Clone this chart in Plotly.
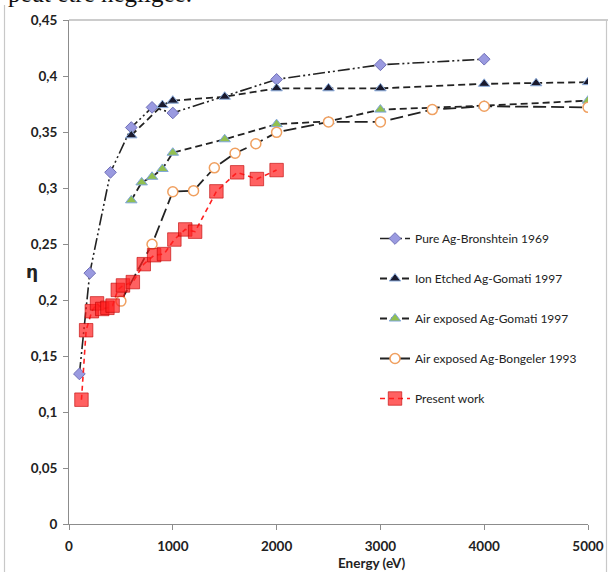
import plotly.graph_objects as go

# ---- data ----
bron_x = [100, 200, 400, 600, 800, 1000, 2000, 3000, 4000]
bron_y = [0.134, 0.224, 0.314, 0.354, 0.372, 0.367, 0.397, 0.410, 0.415]

ion_x = [600, 900, 1000, 1500, 2000, 2500, 3000, 4000, 4500, 5000]
ion_y = [0.347, 0.374, 0.378, 0.3815, 0.389, 0.389, 0.389, 0.393, 0.3935, 0.3945]

gom_x = [600, 700, 800, 900, 1000, 1500, 2000, 2500, 3000, 4000, 5000]
gom_y = [0.289, 0.305, 0.310, 0.317, 0.3315, 0.3435, 0.357, 0.3595, 0.370, 0.3735, 0.378]

bong_x = [500, 800, 1000, 1200, 1400, 1600, 1800, 2000, 2500, 3000, 3500, 4000, 5000]
bong_y = [0.199, 0.2497, 0.2967, 0.2976, 0.318, 0.331, 0.3395, 0.3497, 0.359, 0.359, 0.370, 0.373, 0.372]

present_x = [120, 165, 220, 270, 320, 370, 420, 470, 520, 615, 720, 820, 915, 1015, 1120, 1215, 1420, 1620, 1810, 2000]
present_y = [0.111, 0.173, 0.190, 0.197, 0.192, 0.193, 0.195, 0.209, 0.213, 0.216, 0.232, 0.240, 0.241, 0.254, 0.263, 0.261, 0.297, 0.314, 0.308, 0.316]

series_names = ["Pure Ag-Bronshtein 1969", "Ion Etched Ag-Gomati 1997",
                "Air exposed Ag-Gomati 1997", "Air exposed Ag-Bongeler 1993",
                "Present work"]

x_tickvals = [0, 1000, 2000, 3000, 4000, 5000]
x_ticktext = ["0", "1000", "2000", "3000", "4000", "5000"]
y_tickvals = [0, 0.05, 0.1, 0.15, 0.2, 0.25, 0.3, 0.35, 0.4, 0.45]
y_ticktext = ["0", "0,05", "0,1", "0,15", "0,2", "0,25", "0,3", "0,35", "0,4", "0,45"]

x_title = "Energy (eV)"
y_title = "η"
top_text = "peut être négligée."

FONT = "Lato"
LEG_FONT = dict(family=FONT, size=12, color="#222222")

fig = go.Figure()

fig.add_trace(go.Scatter(
    x=bron_x, y=bron_y, name=series_names[0], mode="lines+markers",
    line=dict(color="#222222", width=1.6, dash="12px,3px,2px,3px,2px,3px"),
    marker=dict(symbol="diamond", size=9, color="#9a9ae0",
                line=dict(color="#7070b8", width=1)),
    legendgroup="a"))

fig.add_trace(go.Scatter(
    x=ion_x, y=ion_y, name=series_names[1], mode="lines+markers",
    line=dict(color="#222222", width=1.8, dash="7px,4px"),
    marker=dict(symbol="triangle-up", size=10, color="#1a1a2e",
                line=dict(color="#8fb0e0", width=1)),
    legendgroup="b"))

fig.add_trace(go.Scatter(
    x=gom_x, y=gom_y, name=series_names[2], mode="lines+markers",
    line=dict(color="#222222", width=1.8, dash="7px,4px"),
    marker=dict(symbol="triangle-up", size=10, color="#92c050",
                line=dict(color="#7fa6dc", width=1)),
    legendgroup="c"))

fig.add_trace(go.Scatter(
    x=bong_x, y=bong_y, name=series_names[3], mode="lines+markers",
    line=dict(color="#222222", width=1.8, dash="13px,5px"),
    marker=dict(symbol="circle", size=10, color="white",
                line=dict(color="#f0a060", width=1.5)),
    legendgroup="d"))

fig.add_trace(go.Scatter(
    x=present_x, y=present_y, name=series_names[4], mode="lines+markers",
    line=dict(color="#ff2020", width=1.6, dash="5px,4px"),
    marker=dict(symbol="square", size=13.5, color="rgba(255,30,30,0.7)",
                line=dict(color="rgba(190,0,0,0.6)", width=1)),
    legendgroup="e"))

L, R, T, B = 69, 20, 20, 48
W, H = 608, 572
pw = W - L - R
ph = H - T - B

axis_common = dict(
    showgrid=False, zeroline=False, showline=True, linecolor="#8c8c8c",
    linewidth=1, ticks="outside", ticklen=5, tickcolor="#8c8c8c", automargin=False,
    tickfont=dict(family=FONT, size=13.5, color="#222222", weight="bold"),
)

fig.update_layout(
    width=W, height=H, autosize=False,
    margin=dict(l=L, r=R, t=T, b=B, autoexpand=False),
    paper_bgcolor="white", plot_bgcolor="white",
    showlegend=True,
    legend=dict(x=(375 - L) / pw, y=(524 - 224) / ph, xanchor="left", yanchor="top",
                font=LEG_FONT, tracegroupgap=21, itemwidth=30,
                bgcolor="rgba(0,0,0,0)"),
    xaxis=dict(range=[0, 5000], tickvals=x_tickvals, ticktext=x_ticktext,
               ticklabelstandoff=5, **axis_common),
    yaxis=dict(range=[0, 0.45], tickvals=y_tickvals, ticktext=y_ticktext,
               ticklabelstandoff=3, **axis_common),
)

# axis titles
fig.add_annotation(text=x_title, xref="paper", yref="paper",
                   x=(372 - L) / pw, y=-(563 - 524) / ph, xanchor="center", yanchor="middle",
                   showarrow=False, font=dict(family=FONT, size=13.5, color="#222222", weight="bold"))
fig.add_annotation(text=y_title, xref="paper", yref="paper",
                   x=-(L - 32) / pw, y=(524 - 272) / ph, xanchor="center", yanchor="middle",
                   showarrow=False, font=dict(family="DejaVu Sans", size=17, color="#222222", weight="bold"))

# clipped document text at top
fig.add_annotation(text=top_text, xref="paper", yref="paper",
                   x=-(L - 6) / pw, y=1 + (T + 6) / ph, xanchor="left", yanchor="middle",
                   showarrow=False, font=dict(family="Liberation Serif", size=25, color="#111111"))

# chart frame lines
frame = dict(color="#c8c8c8", width=1.2)
fig.add_shape(type="line", xref="paper", yref="paper",
              x0=-(L - 4.5) / pw, x1=-(L - 4.5) / pw, y0=-(H - 524) / ph, y1=1 + (T - 5) / ph, line=frame)
fig.add_shape(type="line", xref="paper", yref="paper",
              x0=0, x1=(W - L) / pw, y0=1, y1=1, line=dict(color="#9a9a9a", width=1.2))
fig.add_shape(type="line", xref="paper", yref="paper",
              x0=(606.5 - L) / pw, x1=(606.5 - L) / pw, y0=-(H - 524) / ph, y1=1, line=frame)

fig.write_html("out.html",
               config={"responsive": False, "displayModeBar": False},
               post_script="document.body.style.margin='0';document.body.style.overflow='hidden';")
